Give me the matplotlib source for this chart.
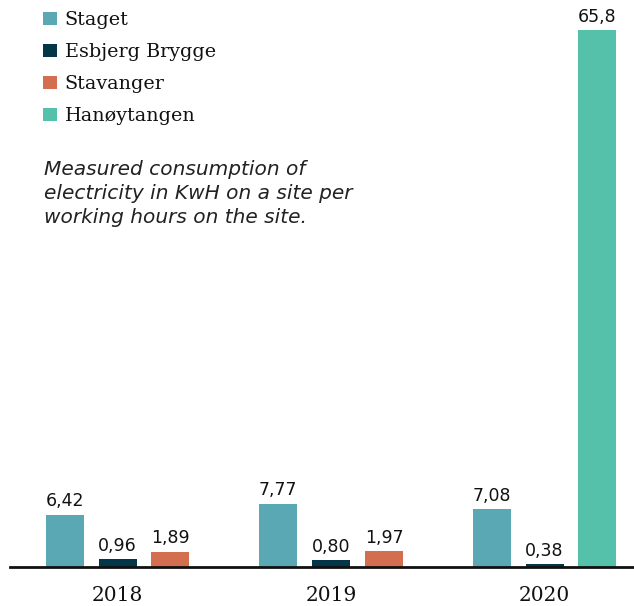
import matplotlib
matplotlib.use("Agg")
import matplotlib.pyplot as plt
from matplotlib.patches import Patch
import numpy as np

years = ["2018", "2019", "2020"]
staget = [6.42, 7.77, 7.08]
esbjerg = [0.96, 0.80, 0.38]
stavanger = [1.89, 1.97, None]
hanoy = [None, None, 65.8]

series_names = ["Staget", "Esbjerg Brygge", "Stavanger", "Hanøytangen"]
colors = ["#5BA8B5", "#04364A", "#D36F50", "#55C1AB"]

fig = plt.figure(figsize=(6.34, 6.06), dpi=100)
ax = fig.add_axes([10/634, 39/606, 1 - 10/634, 567/606])

x = np.arange(len(years))
w = 0.178
step = 0.248

def fmt(v):
    s = f"{v:.2f}" if v < 10 else f"{v:.1f}"
    return s.replace(".", ",")

def draw(vals, off, color):
    xs = [xi + off for xi, v in zip(x, vals) if v is not None]
    vs = [v for v in vals if v is not None]
    bars = ax.bar(xs, vs, width=w, color=color)
    ax.bar_label(bars, labels=[fmt(v) for v in vs], padding=3, fontsize=12.5,
                 family="DejaVu Sans", color="#111111")

draw(staget, -step, colors[0])
draw(esbjerg, 0, colors[1])
draw(stavanger, step, colors[2])
draw(hanoy, step, colors[3])

ax.set_xlim(-0.5035, 2.419)
ax.set_ylim(0, 69.5)
for s in ["top", "right", "left"]:
    ax.spines[s].set_visible(False)
ax.spines["bottom"].set_linewidth(2)
ax.spines["bottom"].set_color("#111111")
ax.set_yticks([])
ax.set_xticks(x)
ax.set_xticklabels(years, family="DejaVu Serif", fontsize=14.5, color="#111111")
ax.tick_params(axis="x", length=0, pad=14)

handles = [Patch(facecolor=c, edgecolor="none") for c in colors]
leg = fig.legend(handles, series_names, loc="upper left", bbox_to_anchor=(26/634, 1.01),
                 frameon=False, handlelength=0.72, handleheight=0.72, handletextpad=0.4,
                 labelspacing=0.73, prop=dict(family="DejaVu Serif", size=13.8))
for t in leg.get_texts():
    t.set_color("#111111")

fig.text(44/634, 1 - 160/606,
         "Measured consumption of\nelectricity in KwH on a site per\nworking hours on the site.",
         ha="left", va="top", fontsize=14.5, style="italic", family="DejaVu Sans",
         color="#222222", linespacing=1.32)

fig.savefig("out.png", dpi=100)
